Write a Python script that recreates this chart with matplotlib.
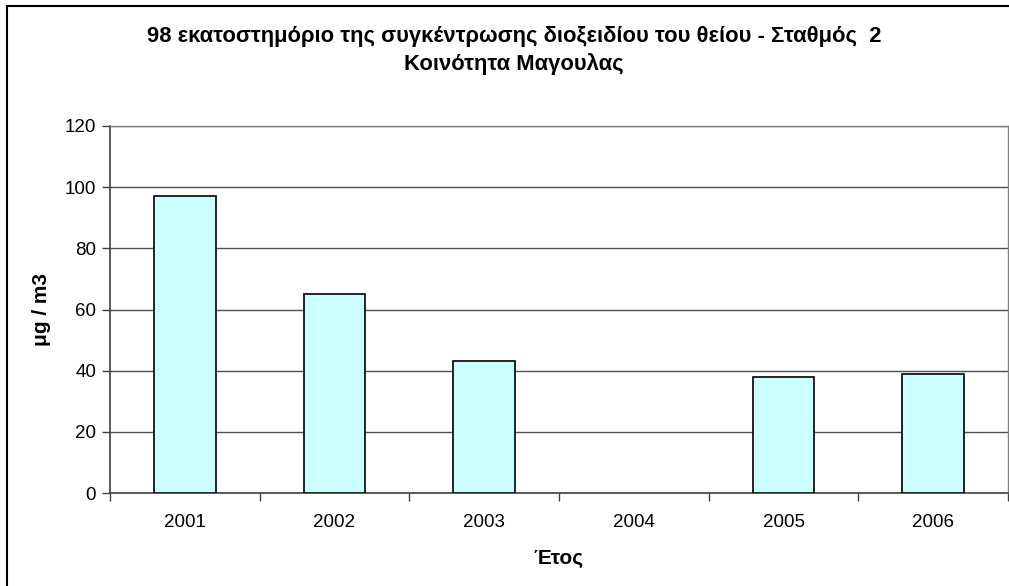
import numpy as np
import matplotlib
matplotlib.use("Agg")
import matplotlib.pyplot as plt
from matplotlib.patches import Rectangle

years = ["2001", "2002", "2003", "2004", "2005", "2006"]
percentile_98 = [97, 65, 43, np.nan, 38, 39]
y_ticks = [0, 20, 40, 60, 80, 100, 120]

title = ("98 εκατοστημόριο της συγκέντρωσης διοξειδίου του θείου - Σταθμός  2\n"
         "Κοινότητα Μαγουλας")

plt.rcParams["font.family"] = ["Liberation Sans", "DejaVu Sans"]

W, H = 1009, 586
fig = plt.figure(figsize=(W / 100, H / 100), dpi=100)
ax = fig.add_axes([110 / W, 1 - 493 / H, (1008 - 110) / W, (493 - 126) / H])

x = np.arange(len(years))
ax.bar(x, percentile_98, width=0.41, color="#CCFFFF", edgecolor="black", linewidth=1.2, zorder=3)

ax.set_xlim(-0.5, len(years) - 0.5)
ax.set_ylim(0, 120)
ax.set_yticks(y_ticks)
ax.set_yticklabels([str(v) for v in y_ticks], fontsize=13.5)
ax.set_xticks(x)
ax.set_xticklabels(years, fontsize=13.5)
ax.tick_params(axis="x", length=0, pad=15)
ax.set_xticks(np.arange(len(years) + 1) - 0.5, minor=True)
ax.tick_params(axis="x", which="minor", length=6, width=1, color="#404040", direction="out")
ax.tick_params(axis="y", length=6, width=1, color="#404040", pad=4)

ax.yaxis.grid(True, color="#505050", linewidth=1, zorder=0)
for side in ("top", "right"):
    ax.spines[side].set_color("#808080")
    ax.spines[side].set_linewidth(1)
for side in ("left", "bottom"):
    ax.spines[side].set_color("#404040")
    ax.spines[side].set_linewidth(1.2)

ax.set_ylabel("μg / m3", fontsize=15, fontweight="bold", labelpad=10)
ax.set_xlabel("Έτος", fontsize=15, fontweight="bold", labelpad=13)

fig.text(514 / W, 1 - 50.5 / H, title, ha="center", va="center", fontsize=15.8,
         fontweight="bold", linespacing=1.35)

# chart frame, running off the right and bottom edges
fig.patches.append(Rectangle((7 / W, -0.05), 1.1, 1 - 6 / H + 0.05, transform=fig.transFigure,
                             fill=False, edgecolor="black", linewidth=1.5, clip_on=False))

fig.savefig("out.png", dpi=100)
